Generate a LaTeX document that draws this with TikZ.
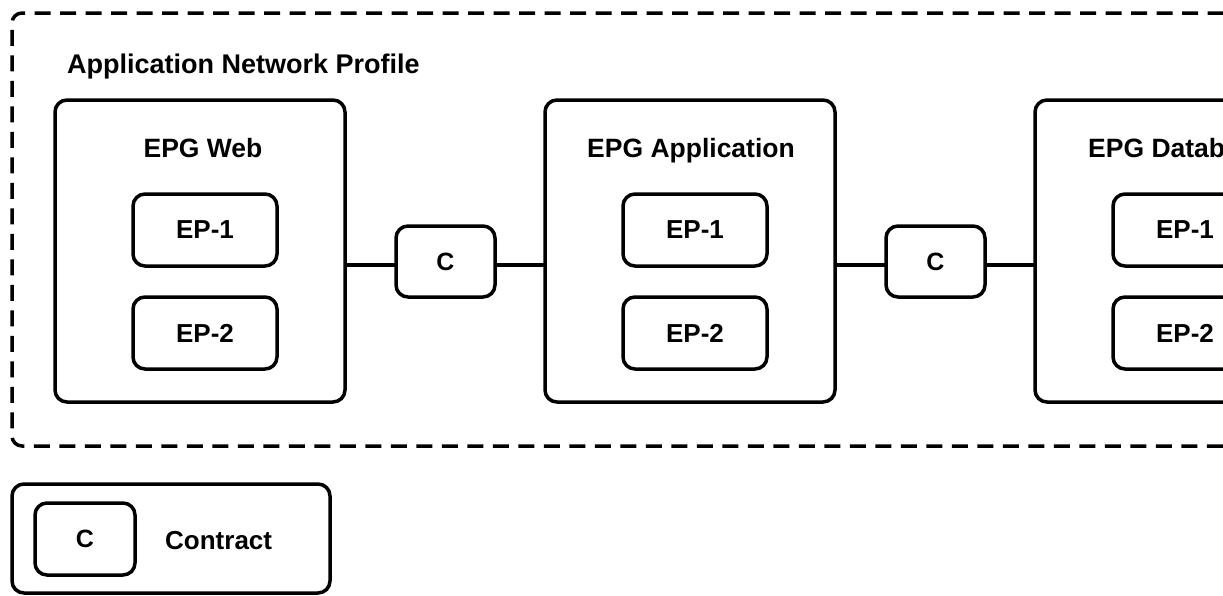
\documentclass[tikz,border=0pt]{standalone}
\usepackage{fontspec}
\setmainfont{Liberation Sans}
\begin{document}
\begin{tikzpicture}[x=1pt,y=-1pt,
  box/.style={draw=black,line width=3.5pt,rounded corners=12pt,fill=white,inner sep=0pt,outer sep=0pt},
  epg/.style={box,minimum width=290pt,minimum height=302pt},
  epbox/.style={box,minimum width=144pt,minimum height=72pt,font=\fontsize{26}{30}\selectfont\bfseries},
  cbox/.style={box,minimum width=99pt,minimum height=71pt,font=\fontsize{25}{30}\selectfont\bfseries},
  ttl/.style={anchor=base,inner sep=0pt,font=\fontsize{26.5}{30}\selectfont\bfseries},
  link/.style={line width=3.5pt}]
\useasboundingbox (0,0) rectangle (1223,595);
\clip (0,0) rectangle (1223,595);
\fill[white] (0,0) rectangle (1223,595);
% outer dashed profile
\draw[line width=3.5pt,dash pattern=on 16pt off 9.5pt,rounded corners=10pt] (1300,13) -- (12,13) -- (12,446) -- (1300,446);
\node[anchor=base west,inner sep=0pt,font=\fontsize{27}{30}\selectfont\bfseries] (anp) at (67,73) {Application Network Profile};
% EPG boxes
\node[epg] (web) at (200,251) {};
\node[epg] (app) at (690,251) {};
\node[epg] (db) at (1180,251) {};
\node[ttl] (webt) at (203,157) {EPG Web};
\node[ttl] (appt) at (691,157) {EPG Application};
\node[ttl,anchor=base west] (dbt) at (1088,157) {EPG Database};
\node[epbox] (w1) at (205,230) {EP-1};
\node[epbox] (w2) at (205,333) {EP-2};
\node[epbox] (a1) at (695,230) {EP-1};
\node[epbox] (a2) at (695,333) {EP-2};
\node[epbox] (d1) at (1185,230) {EP-1};
\node[epbox] (d2) at (1185,333) {EP-2};
% contracts
\node[cbox] (c1) at (445.5,261.5) {C};
\node[cbox] (c2) at (935.5,261.5) {C};
\draw[link] (web.east |- 0,265) -- (c1.west |- 0,265);
\draw[link] (c1.east |- 0,265) -- (app.west |- 0,265);
\draw[link] (app.east |- 0,265) -- (c2.west |- 0,265);
\draw[link] (c2.east |- 0,265) -- (db.west |- 0,265);
% legend
\node[box,minimum width=318pt,minimum height=109pt] (leg) at (171,538.5) {};
\node[cbox,minimum width=100pt,minimum height=72pt] (lc) at (85,539) {C};
\node[anchor=west,inner sep=0pt,font=\fontsize{26}{30}\selectfont\bfseries] (lt) at (165,541) {Contract};
\end{tikzpicture}
\end{document}
